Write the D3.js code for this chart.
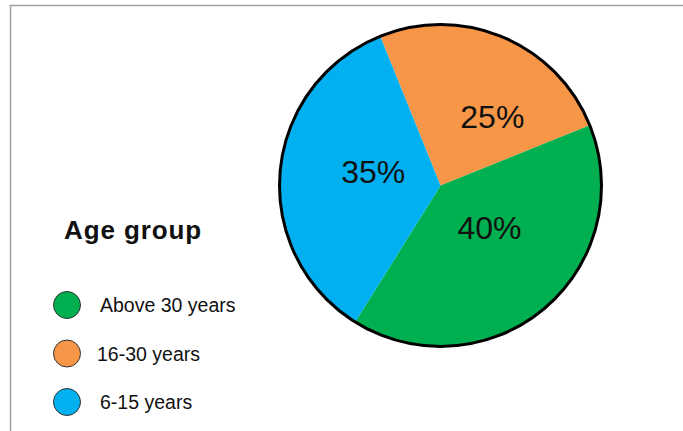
<!DOCTYPE html>
<html>
<head>
<meta charset="utf-8">
<script src="https://cdn.jsdelivr.net/npm/d3@7/dist/d3.min.js"></script>
<style>
  html, body { margin: 0; padding: 0; background: #fff; }
  svg { display: block; font-family: "Liberation Sans", Arial, sans-serif; }
</style>
</head>
<body>
<svg id="chart" width="683" height="431"></svg>
<script>
// chart data
const categories = ["16-30 years", "Above 30 years", "6-15 years"];
const shares = [25, 40, 35];
const sliceColors = ["#f79646", "#00b050", "#00b0f0"];

// legend order as shown in the picture
const legendLabels = ["Above 30 years", "16-30 years", "6-15 years"];
const legendTitle = "Age group";

const width = 683;
const height = 431;

const svg = d3.select("#chart");

// thin grey frame at top and left edge
svg.append("path")
  .attr("d", `M10.5,${height} V5.5 H${width}`)
  .attr("fill", "none")
  .attr("stroke", "#a0a0a0")
  .attr("stroke-width", 1.5);

// pie
const cx = 440.5;
const cy = 185.5;
const radius = 161;
const startDeg = -22;

const pie = d3.pie()
  .sort(null)
  .value((d) => d)
  .startAngle((startDeg * Math.PI) / 180)
  .endAngle(((startDeg + 360) * Math.PI) / 180);

const arcs = pie(shares);

const arc = d3.arc().innerRadius(0).outerRadius(radius);

const g = svg.append("g").attr("transform", `translate(${cx},${cy})`);

g.selectAll("path.slice")
  .data(arcs)
  .join("path")
  .attr("class", "slice")
  .attr("d", arc)
  .attr("fill", (d, i) => sliceColors[i]);

g.append("circle")
  .attr("r", radius)
  .attr("fill", "none")
  .attr("stroke", "#000")
  .attr("stroke-width", 3);

// label placement: radius fraction + angular nudge per slice (degrees)
const labelLayout = [
  { r: 0.535, turn: 14 },
  { r: 0.40, turn: -9.5 },
  { r: 0.426, turn: 6.5 }
];

g.selectAll("text.pct")
  .data(arcs)
  .join("text")
  .attr("class", "pct")
  .attr("transform", (d, i) => {
    const L = labelLayout[i];
    const shift = (L.turn * Math.PI) / 180;
    const la = d3.arc()
      .innerRadius(radius * L.r)
      .outerRadius(radius * L.r);
    const c = la.centroid({
      startAngle: d.startAngle + shift,
      endAngle: d.endAngle + shift
    });
    return `translate(${c[0]},${c[1]})`;
  })
  .attr("text-anchor", "middle")
  .attr("dy", "0.36em")
  .attr("font-size", 32)
  .attr("fill", "#111")
  .text((d) => d.data + "%");

// legend
svg.append("text")
  .attr("x", 64)
  .attr("y", 239)
  .attr("font-size", 26)
  .attr("font-weight", "bold")
  .attr("letter-spacing", 0.9)
  .attr("fill", "#111")
  .text(legendTitle);

const legendY = d3.scalePoint()
  .domain(legendLabels)
  .range([305, 402]);

const legendRows = svg.selectAll("g.legend-row")
  .data(legendLabels)
  .join("g")
  .attr("class", "legend-row")
  .attr("transform", (d) => `translate(67,${legendY(d)})`);

legendRows.append("ellipse")
  .attr("rx", 13.5)
  .attr("ry", 13.5)
  .attr("fill", (d) => sliceColors[categories.indexOf(d)])
  .attr("stroke", "#333")
  .attr("stroke-width", 1);

legendRows.append("text")
  .attr("x", (d, i) => (i === 1 ? 30 : 33))
  .attr("y", 7)
  .attr("font-size", 19.5)
  .attr("fill", "#111")
  .text((d) => d);
</script>
</body>
</html>
